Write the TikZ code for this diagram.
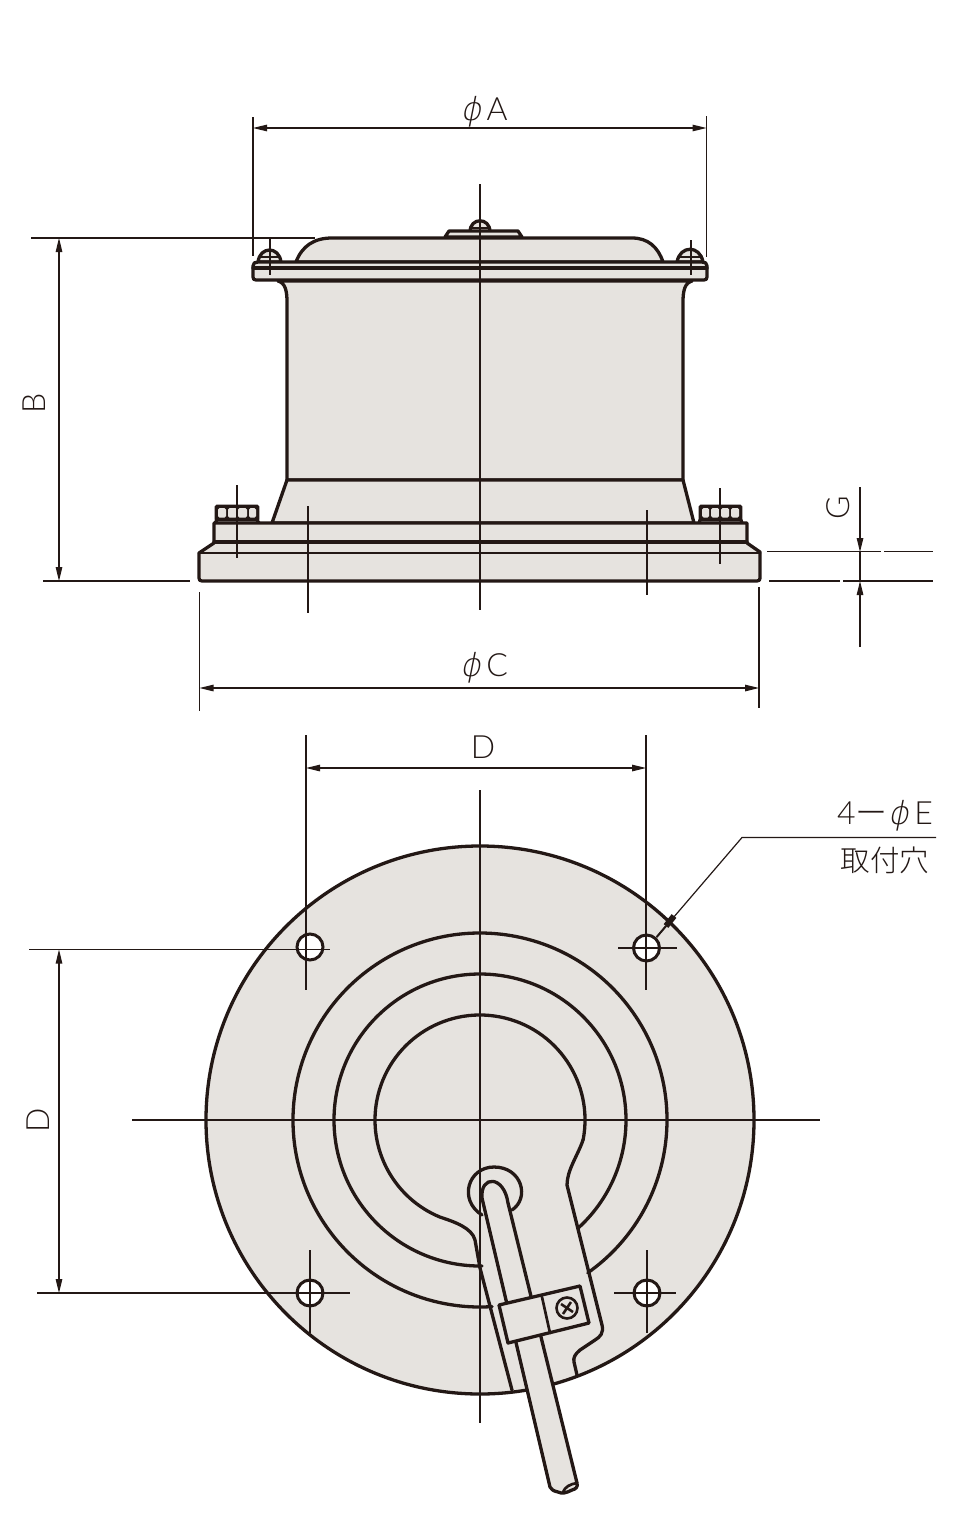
\documentclass[tikz,border=0pt]{standalone}
\usepackage{fontspec}
\setmainfont{Lato Light}
\newfontfamily\phifont{DejaVu Sans ExtraLight}[FakeSlant=0.2]
\newfontfamily\jpfont{Noto Sans CJK JP Light}
\usetikzlibrary{arrows.meta}
\definecolor{ink}{HTML}{231815}
\definecolor{body}{HTML}{E6E3DF}
\tikzset{
  part/.style={draw=ink,line width=3.3pt,fill=body,line join=round,line cap=round},
  edge/.style={draw=ink,line width=3.3pt,line join=round,line cap=round},
  mid/.style={draw=ink,line width=2.7pt,line cap=round},
  thinline/.style={draw=ink,line width=1.2pt},
  dim/.style={draw=ink,line width=1.2pt,{Triangle[length=14pt,width=6.5pt]}-{Triangle[length=14pt,width=6.5pt]}},
  tip/.style={draw=ink,line width=1.2pt,-{Triangle[length=14pt,width=6.5pt]}},
  label/.style={text=ink,font=\fontsize{32}{32}\selectfont,inner sep=0pt},
  hole/.style={draw=ink,line width=3pt,fill=white},
}
\newcommand{\phisym}{{\phifont ϕ}}
\begin{document}
\begin{tikzpicture}[x=1pt,y=1pt,yscale=-1]
\useasboundingbox (0,0) rectangle (960,1520);
\fill[white] (0,0) rectangle (960,1520);

% ---------- elevation view ----------
% rivets on lid
\path[part] (470,232) .. controls (470,217) and (490,217) .. (490,232) -- cycle;
\path[part] (258,262) .. controls (260,246) and (279,246) .. (281,262) -- cycle;
\path[part] (677,262) .. controls (680,245) and (700,245) .. (703,262) -- cycle;
\draw[thinline] (260,257) -- (279,257) (679,257) -- (701,257) (472,228) -- (488,228);
% cap plate
\path[part] (445,237) -- (449,231) -- (518,231) -- (522,237) -- cycle;
% lid dome
\path[part] (296,262) .. controls (302,246) and (314,238) .. (332,238) -- (632,238)
  .. controls (648,238) and (658,247) .. (663,262) -- cycle;
% cylinder
\path[part] (278,281) .. controls (285,283) and (287,290) .. (287,302) -- (287,480) -- (683,480)
  -- (683,302) .. controls (683,290) and (685,283) .. (692,281) -- cycle;
% lid flange
\path[part] (253,266) .. controls (253,263) and (255,262) .. (258,262) -- (702,262)
  .. controls (705,262) and (707,263) .. (707,266) -- (707,277)
  .. controls (707,279) and (706,280) .. (704,280) -- (256,280)
  .. controls (254,280) and (253,279) .. (253,277) -- cycle;
\draw[edge] (253,268) -- (707,268);
% taper
\path[part] (287,480) -- (683,480) -- (694,523) -- (272,523) -- cycle;
% nuts
\path[draw=ink,line width=2.6pt,fill=ink,rounded corners=1pt] (216,506) rectangle (258,520);
\path[draw=ink,line width=2.6pt,fill=ink,rounded corners=1pt] (700,506) rectangle (741,520);
\foreach \a/\b in {218/226,228/237,238/247,249/256,702/709,711/719,721/729,731/739}
  \fill[body,rounded corners=1.5pt] (\a,508) rectangle (\b,517.5);
\draw[edge] (217,520) -- (215,523) (257,520) -- (259,523) (700,520) -- (699,523) (741,520) -- (742,523);
% base plates
\path[part] (214,523) -- (747,523) -- (747,543) -- (760,552) -- (760,578)
  .. controls (760,580) and (759,581) .. (757,581) -- (202,581)
  .. controls (200,581) and (199,580) .. (199,578) -- (199,553) -- (214,543) -- cycle;
\draw[edge] (214,542) -- (747,542);
\draw[mid] (199,553) -- (760,553);
% centre lines
\draw[thinline] (480,184) -- (480,610);
\draw[thinline] (237,485) -- (237,558);
\draw[thinline] (720,488) -- (720,564);
\draw[thinline] (308,506) -- (308,613);
\draw[thinline] (647,510) -- (647,595);
\draw[thinline] (270,238) -- (270,275);
\draw[thinline] (691,240) -- (691,275);
% extension lines
\draw[thinline] (253,117) -- (253,256);
\draw[thinline] (706.5,116) -- (706.5,257);
\draw[thinline] (31,238) -- (315,238);
\draw[thinline] (43,581) -- (190,581);
\draw[thinline] (199.5,592) -- (199.5,711);
\draw[thinline] (759,587) -- (759,708);
\draw[thinline] (767,551.7) -- (881,551.7) (884,551.7) -- (933,551.7);
\draw[thinline] (769,581) -- (840,581) (843,581) -- (933,581);
% dimensions
\coordinate (aL) at (253,128); \coordinate (aR) at (706.5,128);
\coordinate (bT) at (59,238);  \coordinate (bB) at (59,581);
\coordinate (cL) at (199.5,688); \coordinate (cR) at (759,688);
\coordinate (gA) at (860,487); \coordinate (gB) at (860,552);
\coordinate (gC) at (860,647); \coordinate (gD) at (860,581);
\draw[dim] (aL) -- (aR);
\draw[dim] (bT) -- (bB);
\draw[dim] (cL) -- (cR);
\draw[tip] (gA) -- (gB);
\draw[tip] (gC) -- (gD);
\draw[thinline] (gB) -- (gD);
\node[label] (labA) at (484,111.5) {\phisym\,A};
\node[label,rotate=90] (labB) at (34.5,403) {B};
\node[label] (labC) at (484,667.5) {\phisym\,C};
\node[label,rotate=90] (labG) at (838,508) {G};

% ---------- plan view ----------
\path[part] (480,1120) circle[radius=274];
% ring 1, ring 2 and the inner keyhole outline
\draw[edge] (480,1120) ++(54.8:187) arc[start angle=54.8,end angle=-273.7,radius=187];
\draw[edge] (480,1120) ++(47.5:146) arc[start angle=47.5,end angle=-270.8,radius=146];
\draw[edge] (480,1120) ++(11:105) arc[start angle=11,end angle=-247.6,radius=105]
  .. controls (455,1222) and (472,1228) .. (475,1240) -- (480,1268) -- (512,1390);
\draw[edge] (583,1140) .. controls (578,1155) and (567,1170) .. (567,1185) -- (602,1325)
  .. controls (604,1333) and (600,1337) .. (595,1340) -- (580,1350)
  .. controls (575,1354) and (573,1358) .. (574,1362) -- (577,1375);
% holes
\path[hole] (310,947) circle[radius=13];
\path[hole] (646.5,948) circle[radius=13];
\path[hole] (310,1293) circle[radius=13];
\path[hole] (647,1293) circle[radius=13];
% hub
\path[part] (482,1215) .. controls (458,1200) and (468,1167) .. (494,1167)
  .. controls (522,1167) and (530,1198) .. (512,1210);
% lever rod
\path[part] (482,1198) .. controls (480,1175) and (504,1175) .. (508,1203) -- (577,1483)
  .. controls (578,1487) and (576,1489) .. (572,1490) .. controls (566,1493) and (562,1494) .. (558,1492)
  .. controls (553,1491) and (551,1489) .. (550,1487) -- cycle;
\draw[mid] (563,1492) .. controls (565,1487) and (570,1484) .. (577,1483);
% clamp
\path[part] (499,1305) -- (580,1286) -- (589,1323) -- (508,1343) -- cycle;
\draw[mid] (542,1297) -- (550,1333);
% screw
\path[draw=ink,line width=2.6pt,fill=body] (567,1308) circle[radius=10.5];
\draw[draw=ink,line width=2.6pt] (561,1304) -- (573,1312) (571,1302) -- (563,1314);
% centre lines
\draw[thinline] (480,790) -- (480,1423);
\draw[thinline] (132,1120) -- (820,1120);
\draw[thinline] (306,735) -- (306,990);
\draw[thinline] (646,735) -- (646,990);
\draw[thinline] (29,949.5) -- (330,949.5);
\draw[thinline] (618,948) -- (677,948);
\draw[thinline] (37,1293) -- (350,1293);
\draw[thinline] (614,1293) -- (676,1293);
\draw[thinline] (310,1250) -- (310,1333);
\draw[thinline] (647,1250) -- (647,1333);
% plan dimensions
\coordinate (dL) at (306,768); \coordinate (dR) at (646,768);
\coordinate (eT) at (59,949.5);  \coordinate (eB) at (59,1293);
\draw[dim] (dL) -- (dR);
\draw[dim] (eT) -- (eB);
\node[label] (labD) at (483,747) {D};
\node[label,rotate=90] (labE) at (38,1120) {D};
% leader
\coordinate (lA) at (936,837.5); \coordinate (lB) at (742,837.5); \coordinate (lC) at (656.7,937);
\draw[thinline] (lA) -- (lB) -- (lC);
\draw[draw=ink,line width=2pt] (lC) -- (666,926);
\draw[draw=ink,line width=6pt] (666,926) -- (674,916);
\node[label,anchor=east] (labF) at (933,816) {4{\jpfont ー}\phisym\,E};
\node[text=ink,inner sep=0pt,font=\fontsize{29.5}{29.5}\selectfont\jpfont] (labH) at (885,860) {取付穴};
\end{tikzpicture}
\end{document}
